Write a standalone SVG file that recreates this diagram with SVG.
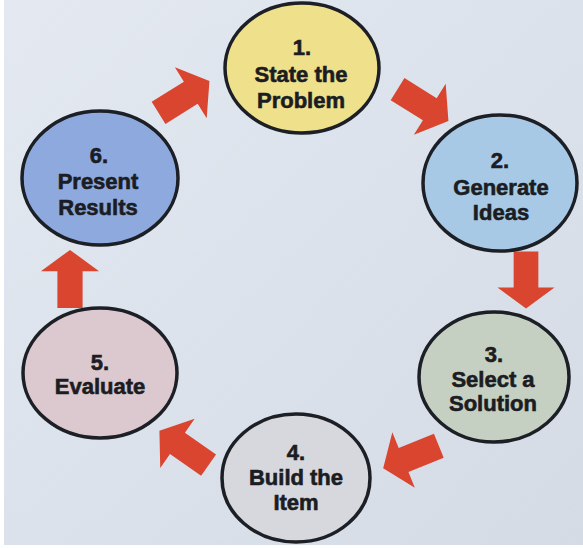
<svg xmlns="http://www.w3.org/2000/svg" xmlns:xlink="http://www.w3.org/1999/xlink" width="583" height="548" viewBox="0 0 583 548">
  <defs>
    <linearGradient id="bg" x1="0" y1="0" x2="1" y2="1">
      <stop offset="0" stop-color="#e4e9f1"/>
      <stop offset="0.5" stop-color="#dbe2eb"/>
      <stop offset="1" stop-color="#d4dbe5"/>
    </linearGradient>
    <path id="arrow" d="M-30,-13 L8,-13 L8,-30 L30,0 L8,30 L8,13 L-30,13 Z"/>
    <style>
      .node ellipse { stroke: #1c1f25; stroke-width: 3.5; }
      .node text { font-family: "Liberation Sans", Arial, sans-serif; font-weight: bold; font-size: 22px; fill: #1b1d22; stroke: #1b1d22; stroke-width: 0.6; text-anchor: middle; }
      .arr { fill: #d9452f; }
    </style>
  </defs>
  <rect x="0" y="0" width="583" height="548" fill="#ffffff"/>
  <rect x="4" y="0" width="579" height="545" fill="url(#bg)"/>

  <g id="connectors">
    <use xlink:href="#arrow" class="arr" transform="translate(423,105) rotate(32)"/>
    <use xlink:href="#arrow" class="arr" transform="translate(526,280) rotate(90) scale(0.95)"/>
    <use xlink:href="#arrow" class="arr" transform="translate(411,457) rotate(158)"/>
    <use xlink:href="#arrow" class="arr" transform="translate(184,448) rotate(215)"/>
    <use xlink:href="#arrow" class="arr" transform="translate(70,279) rotate(-90) scale(0.97)"/>
    <use xlink:href="#arrow" class="arr" transform="translate(184,97) rotate(-32)"/>
  </g>

  <g id="node1" class="node">
    <ellipse cx="302" cy="68" rx="77" ry="65" fill="#efe08c"/>
    <text x="302" y="55">1.</text>
    <text x="301" y="82">State the</text>
    <text x="301" y="108">Problem</text>
  </g>
  <g id="node2" class="node">
    <ellipse cx="500" cy="183" rx="77" ry="68" fill="#a8c9e5"/>
    <text x="500" y="168">2.</text>
    <text x="501" y="195">Generate</text>
    <text x="501" y="220">Ideas</text>
  </g>
  <g id="node3" class="node">
    <ellipse cx="494" cy="377" rx="75" ry="65" fill="#c6d0c2"/>
    <text x="494" y="362">3.</text>
    <text x="493" y="387">Select a</text>
    <text x="493" y="411">Solution</text>
  </g>
  <g id="node4" class="node">
    <ellipse cx="296" cy="478" rx="74" ry="64" fill="#d7d8de"/>
    <text x="296" y="460">4.</text>
    <text x="296" y="485">Build the</text>
    <text x="296" y="510">Item</text>
  </g>
  <g id="node5" class="node">
    <ellipse cx="100" cy="373" rx="77" ry="65" fill="#dcc9cf"/>
    <text x="100" y="370">5.</text>
    <text x="100" y="394">Evaluate</text>
  </g>
  <g id="node6" class="node">
    <ellipse cx="100" cy="178" rx="78" ry="67" fill="#8ea9de"/>
    <text x="99" y="163">6.</text>
    <text x="98" y="189">Present</text>
    <text x="98" y="215">Results</text>
  </g>
</svg>
